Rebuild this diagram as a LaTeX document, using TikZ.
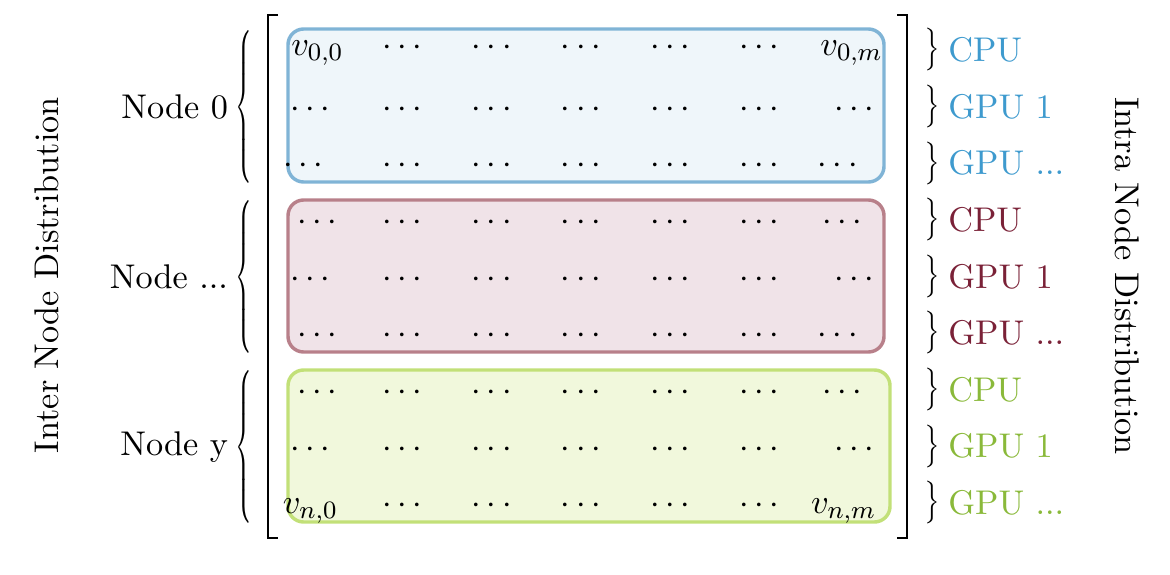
\documentclass[11pt,tikz,border=0pt]{standalone}
\usepackage{amsmath}
\usepackage{graphicx}
\usetikzlibrary{matrix,positioning}
\definecolor{cpublue}{RGB}{62,154,206}
\definecolor{blueline}{RGB}{128,180,214}
\definecolor{bluefill}{RGB}{239,246,250}
\definecolor{cpured}{RGB}{122,33,55}
\definecolor{redline}{RGB}{184,128,138}
\definecolor{redfill}{RGB}{240,227,232}
\definecolor{cpugreen}{RGB}{138,185,58}
\definecolor{greenline}{RGB}{194,224,120}
\definecolor{greenfill}{RGB}{241,248,220}
\tikzset{
  part/.style={rounded corners=5pt, line width=1.1pt},
  brc/.style={inner sep=0pt},
  bracket/.style={line width=0.8pt}
}
\newcommand{\dd}{\cdots}
\newcommand{\etc}{...}
% shift a cell's content left / right inside its fixed width
\newcommand{\lft}[2]{#2\kern#1}
\newcommand{\rgt}[2]{\kern#1#2}
\newcommand{\bigbrace}{\resizebox*{6pt}{49pt}{$\left\{\vcenter{\hbox{\rule{0pt}{44pt}}}\right.$}}
\newcommand{\smallbrace}{\resizebox*{5pt}{13.7pt}{$\big\}$}}

\begin{document}
\begin{tikzpicture}[x=0.3195pt,y=-0.3195pt]
  \useasboundingbox (0,0) rectangle (1170,574);
  % one box per node
  \draw[part,draw=blueline,fill=bluefill] (288,29) rectangle (884,182);
  \draw[part,draw=redline,fill=redfill] (288,200) rectangle (884,352);
  \draw[part,draw=greenline,fill=greenfill] (288,370) rectangle (890,522);
  \matrix (M) at (584,279.5) [matrix of math nodes,
    nodes={minimum width=24pt,minimum height=14pt,inner sep=0pt},
    column sep=4.5pt, row sep=4.1pt] {
    \rgt{2.6pt}{v_{0,0}} & \dd & \dd & \dd & \dd & \dd & v_{0,m} \\
    \lft{1.9pt}{\dd} & \dd & \dd & \dd & \dd & \dd & \rgt{1.9pt}{\dd} \\
    \lft{6.4pt}{\dd} & \dd & \dd & \dd & \dd & \dd & \lft{8.9pt}{\dd} \\
    \rgt{2.6pt}{\dd} & \dd & \dd & \dd & \dd & \dd & \lft{5.8pt}{\dd} \\
    \lft{1.9pt}{\dd} & \dd & \dd & \dd & \dd & \dd & \rgt{1.9pt}{\dd} \\
    \rgt{2.6pt}{\dd} & \dd & \dd & \dd & \dd & \dd & \lft{8.9pt}{\dd} \\
    \rgt{2.6pt}{\dd} & \dd & \dd & \dd & \dd & \dd & \lft{5.8pt}{\dd} \\
    \lft{1.9pt}{\dd} & \dd & \dd & \dd & \dd & \dd & \rgt{1.9pt}{\dd} \\
    \lft{1.9pt}{v_{n,0}} & \dd & \dd & \dd & \dd & \dd & \lft{5.1pt}{v_{n,m}} \\
  };
  \draw[bracket] (278,15) -- (268,15) -- (268,538) -- (278,538);
  \draw[bracket] (897,15) -- (907,15) -- (907,538) -- (897,538);
  % inter node
  \node[brc] (b0) at (245,107) {\bigbrace};
  \node[left=-1.6pt of b0] (n0) {Node 0};
  \node[brc] (b1) at (245,277) {\bigbrace};
  \node[left=-1.6pt of b1] (n1) {Node ...};
  \node[brc] (b2) at (245,447) {\bigbrace};
  \node[left=-1.6pt of b2] (n2) {Node y};
  % intra node
  \foreach \g/\c in {0/cpublue,1/cpured,2/cpugreen}
    \foreach \k/\lab in {0/CPU,1/GPU 1,2/GPU \etc} {
      \pgfmathtruncatemacro{\r}{3*\g+\k}
      \node[brc] (d\r) at (932.5,{50+56.6*\r}) {\smallbrace};
      \node[right=-1.5pt of d\r,text=\c] (u\r) {\lab};
    }
  \node[rotate=90] (inter) at (47,275) {Inter Node Distribution};
  \node[rotate=-90] (intra) at (1127,276) {Intra Node Distribution};
\end{tikzpicture}
\end{document}
